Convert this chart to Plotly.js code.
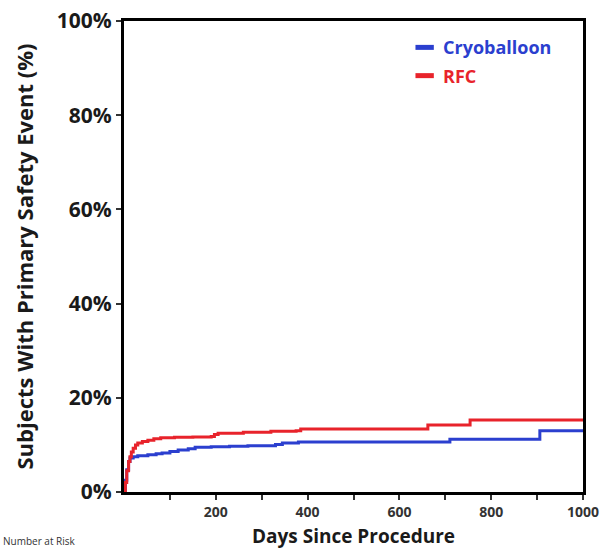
<!DOCTYPE html>
<html>
<head>
<meta charset="utf-8">
<script src="https://cdn.plot.ly/plotly-3.0.1.min.js"></script>
<style>html,body{margin:0;padding:0;background:#fff;}#chart{width:605px;height:552px;}</style>
</head>
<body>
<div id="chart"></div>
<script>
// Kaplan-Meier style cumulative incidence
const seriesNames = ["Cryoballoon", "RFC"];
const cryoDays = [0, 3, 6, 10, 13, 20, 30, 52, 70, 83, 100, 118, 140, 155, 190, 230, 270, 330, 345, 380, 710, 906, 1000];
const cryoPct  = [0, 2.5, 4.7, 6.5, 7.2, 7.5, 7.7, 7.9, 8.1, 8.3, 8.6, 8.9, 9.2, 9.5, 9.6, 9.7, 9.8, 10.1, 10.4, 10.6, 11.2, 13.0, 13.0];
const rfcDays  = [0, 3, 6, 10, 13, 16, 20, 25, 30, 40, 52, 65, 80, 110, 150, 190, 197, 205, 260, 320, 375, 385, 662, 754, 1000];
const rfcPct   = [0, 2.0, 4.5, 6.5, 7.5, 8.5, 9.3, 10.0, 10.4, 10.7, 11.0, 11.3, 11.5, 11.6, 11.7, 11.8, 12.2, 12.5, 12.7, 12.9, 13.0, 13.4, 14.2, 15.3, 15.3];
const xTickVals = [100, 200, 300, 400, 500, 600, 700, 800, 900, 1000];
const xTickText = ["", "200", "", "400", "", "600", "", "800", "", "1000"];
const yTickVals = [0, 20, 40, 60, 80, 100];
const yTickText = ["0%", "20%", "40%", "60%", "80%", "100%"];

const blue = "#2b3fcf";
const red = "#e8232b";
const fontFam = "'Open Sans', 'Liberation Sans', sans-serif";

const traces = [
  {x: cryoDays, y: cryoPct, name: seriesNames[0], type: "scatter", mode: "lines",
   line: {color: blue, width: 3, shape: "hv"}, showlegend: false},
  {x: rfcDays, y: rfcPct, name: seriesNames[1], type: "scatter", mode: "lines",
   line: {color: red, width: 3, shape: "hv"}, showlegend: false}
];

const layout = {
  width: 605, height: 552,
  margin: {l: 124, r: 22, t: 21, b: 60, pad: 0},
  paper_bgcolor: "#fff", plot_bgcolor: "#fff",
  font: {family: fontFam, color: "#1a1a1a"},
  xaxis: {
    range: [0, 1000], tickvals: xTickVals, ticktext: xTickText,
    showgrid: false, zeroline: false, showline: true, mirror: true,
    linecolor: "#000", linewidth: 3, ticks: "outside", ticklen: 5, tickwidth: 2, tickcolor: "#333",
    tickfont: {size: 14, family: fontFam, weight: "bold", color: "#333"},
    title: {text: "<b>Days Since Procedure</b>", font: {size: 19, family: fontFam, color: "#1a1a1a"}, standoff: 10}
  },
  yaxis: {
    range: [0, 100], tickvals: yTickVals, ticktext: yTickText,
    showgrid: false, zeroline: false, showline: true, mirror: true,
    linecolor: "#000", linewidth: 3, ticks: "outside", ticklen: 5, tickwidth: 2, tickcolor: "#333",
    tickfont: {size: 21, family: fontFam, weight: "bold", color: "#1a1a1a"},
    title: {text: "<b>Subjects With Primary Safety Event (%)</b>", font: {size: 22, family: fontFam, color: "#1a1a1a"}, standoff: 18}
  },
  shapes: [
    {type: "line", xref: "paper", yref: "paper", x0: 0.635, x1: 0.675, y0: 0.944, y1: 0.944, line: {color: blue, width: 5}},
    {type: "line", xref: "paper", yref: "paper", x0: 0.635, x1: 0.675, y0: 0.884, y1: 0.884, line: {color: red, width: 5}}
  ],
  annotations: [
    {xref: "paper", yref: "paper", x: 0.69, y: 0.944, xanchor: "left", yanchor: "middle", showarrow: false,
     text: "<b>" + seriesNames[0] + "</b>", font: {size: 18, family: fontFam, color: blue}},
    {xref: "paper", yref: "paper", x: 0.69, y: 0.884, xanchor: "left", yanchor: "middle", showarrow: false,
     text: "<b>" + seriesNames[1] + "</b>", font: {size: 18, family: fontFam, color: red}},
    {xref: "paper", yref: "paper", x: -0.268, y: -0.124, xanchor: "left", yanchor: "bottom", showarrow: false,
     text: "Number at Risk", font: {size: 10, family: fontFam, color: "#333"}}
  ]
};

Plotly.newPlot("chart", traces, layout, {displayModeBar: false, staticPlot: true});
</script>
</body>
</html>
